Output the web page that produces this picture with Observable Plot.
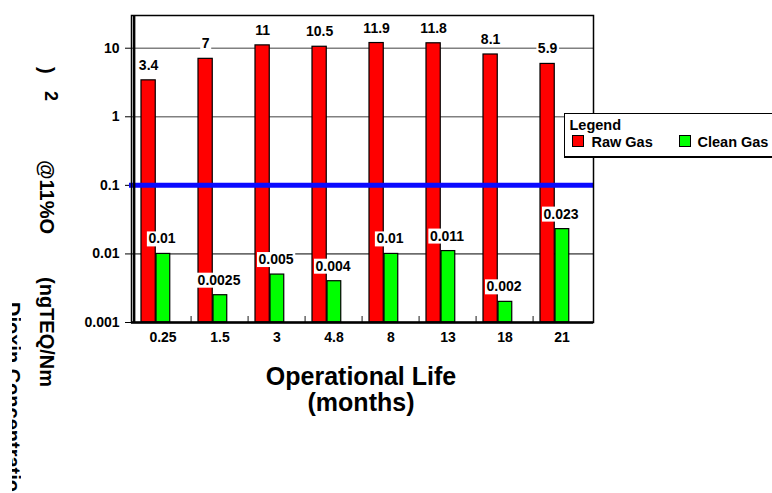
<!DOCTYPE html>
<html><head><meta charset="utf-8">
<script src="https://cdn.jsdelivr.net/npm/d3@7"></script>
<script src="https://cdn.jsdelivr.net/npm/@observablehq/plot@0.6"></script>
<style>
html,body{margin:0;padding:0;background:#fff;}
#wrap{position:relative;width:772px;height:493px;overflow:hidden;font-family:"Liberation Sans",Arial,sans-serif;font-weight:bold;color:#000;}
#wrap svg{position:absolute;left:0;top:0;}
.rot{position:absolute;transform-origin:0 0;transform:rotate(90deg);white-space:nowrap;line-height:1;font-size:20px;}
#clip{position:absolute;left:12px;top:0;width:8.5px;height:493px;overflow:hidden;}
#xtitle{position:absolute;left:0;width:722px;top:363px;text-align:center;font-size:25px;line-height:26px;}
#legend{position:absolute;left:564px;top:113px;width:230px;height:42px;border:1.5px solid #000;background:#fff;box-shadow:0 1px 0 #000;font-size:14.5px;line-height:14px;}
#legend .t{position:absolute;white-space:nowrap;}
#legend .sw{position:absolute;width:10px;height:10px;border:1.5px solid #000;}
</style></head><body><div id="wrap"></div>
<script>
// ---- data ----
const months = ["0.25", "1.5", "3", "4.8", "8", "13", "18", "21"];
const rawGas = [3.4, 7, 11, 10.5, 11.9, 11.8, 8.1, 5.9];
const cleanGas = [0.01, 0.0025, 0.005, 0.004, 0.01, 0.011, 0.002, 0.023];
const rawLabels = ["3.4", "7", "11", "10.5", "11.9", "11.8", "8.1", "5.9"];
const cleanLabels = ["0.01", "0.0025", "0.005", "0.004", "0.01", "0.011", "0.002", "0.023"];
const yTicks = [0.001, 0.01, 0.1, 1, 10];
const yTickLabels = ["0.001", "0.01", "0.1", "1", "10"];
const limitLine = [0.1];
const seriesNames = ["Raw Gas", "Clean Gas"];
const seriesColors = ["#ff0000", "#00ff00"];
const legendTitle = "Legend";
const xTitle = ["Operational Life", "(months)"];

// ---- layout ----
const W = 772, H = 493, mL = 131, mR = 179, mT = 15, mB = 171;
const bw = (W - mL - mR) / months.length;
const yMin = 0.001, yMax = 30;

const raw = months.map((m, i) => ({month: m, value: rawGas[i], label: rawLabels[i]}));
const clean = months.map((m, i) => ({month: m, value: cleanGas[i], label: cleanLabels[i]}));
const grid = yTicks.filter(v => v > yMin && !limitLine.includes(v));

const chart = Plot.plot({
  width: W, height: H,
  marginLeft: mL, marginRight: mR, marginTop: mT, marginBottom: mB,
  style: {fontFamily: "'Liberation Sans', Arial, sans-serif", fontSize: "14px", fontWeight: "bold", background: "transparent", color: "#000"},
  x: {domain: months, padding: 0, tickSize: 0, tickPadding: 10, label: null},
  y: {type: "log", domain: [yMin, yMax], ticks: yTicks, tickFormat: d => yTickLabels[yTicks.indexOf(d)], tickSize: 6, tickPadding: 6, label: null},
  marks: [
    Plot.ruleY(grid, {stroke: d => d >= 1 ? "#808080" : "#000", strokeWidth: d => d >= 1 ? 1.5 : 1}),
    Plot.ruleX(months.slice(1), {x: d => d, dx: -bw / 2, y1: () => yMin, y2: () => yMin, insetTop: -6, stroke: "#666", strokeWidth: 1.5}),
    Plot.barY(raw, {x: "month", y1: () => yMin, y2: "value", fill: seriesColors[0], stroke: "#000", strokeWidth: 1.2, insetLeft: 7, insetRight: bw - 22}),
    Plot.barY(clean, {x: "month", y1: () => yMin, y2: "value", fill: seriesColors[1], stroke: "#000", strokeWidth: 1.2, insetLeft: 22, insetRight: bw - 36.5}),
    Plot.ruleY(limitLine, {stroke: "#0a0aff", strokeWidth: 5, insetLeft: -2}),
    Plot.frame({stroke: "#000", strokeWidth: 1.5}),
    Plot.ruleY([yMin], {stroke: "#000", strokeWidth: 2.5}),
    Plot.ruleX([months[0]], {x: d => d, dx: -bw / 2, stroke: "#000", strokeWidth: 2.5}),
    Plot.text(raw, {x: "month", y: "value", text: "label", dx: -14.4, dy: -15, fontSize: 14, fontWeight: "bold", fill: "#000"}),
    Plot.text(clean, {x: "month", y: "value", text: "label", dx: -1, dy: -15, fontSize: 14, fontWeight: "bold", fill: "#000"})
  ]
});

const wrap = document.getElementById("wrap");
wrap.append(chart);
const svg = chart.tagName.toLowerCase() === "svg" ? chart : chart.querySelector("svg");
// white boxes behind value labels
svg.querySelectorAll('g[aria-label="text"] text').forEach(t => {
  const b = t.getBBox();
  const r = document.createElementNS("http://www.w3.org/2000/svg", "rect");
  r.setAttribute("x", b.x - 1.5);
  r.setAttribute("y", b.y + 1);
  r.setAttribute("width", b.width + 3);
  r.setAttribute("height", b.height - 1);
  r.setAttribute("fill", "#fff");
  r.setAttribute("stroke", "none");
  if (t.getAttribute("transform")) r.setAttribute("transform", t.getAttribute("transform"));
  t.parentNode.insertBefore(r, t);
});

// y-axis title fragments (rotated)
function rot(text, left, top, size, parent) {
  const s = document.createElement("div");
  s.className = "rot";
  s.textContent = text;
  s.style.left = left + "px";
  s.style.top = top + "px";
  if (size) s.style.fontSize = size + "px";
  (parent || wrap).append(s);
}
rot(")", 57, 67);
rot("2", 60, 91, 18);
rot("@11%O", 57, 160);
rot("(ngTEQ/Nm", 57, 277);
const clip = document.createElement("div");
clip.id = "clip";
wrap.append(clip);
rot("Dioxin Concentration", 10.6, 302, 20, clip);

// x title
const xt = document.createElement("div");
xt.id = "xtitle";
xt.innerHTML = xTitle.map(s => `<div>${s}</div>`).join("");
wrap.append(xt);

// legend
const lg = document.createElement("div");
lg.id = "legend";
lg.innerHTML = `<div class="t" style="left:4.5px;top:4px">${legendTitle}</div>
<div class="sw" style="left:6.5px;top:20.5px;background:${seriesColors[0]}"></div>
<div class="t" style="left:26.5px;top:21px">${seriesNames[0]}</div>
<div class="sw" style="left:113.5px;top:20.5px;background:${seriesColors[1]}"></div>
<div class="t" style="left:132.5px;top:21px">${seriesNames[1]}</div>`;
wrap.append(lg);
</script>
</body></html>
